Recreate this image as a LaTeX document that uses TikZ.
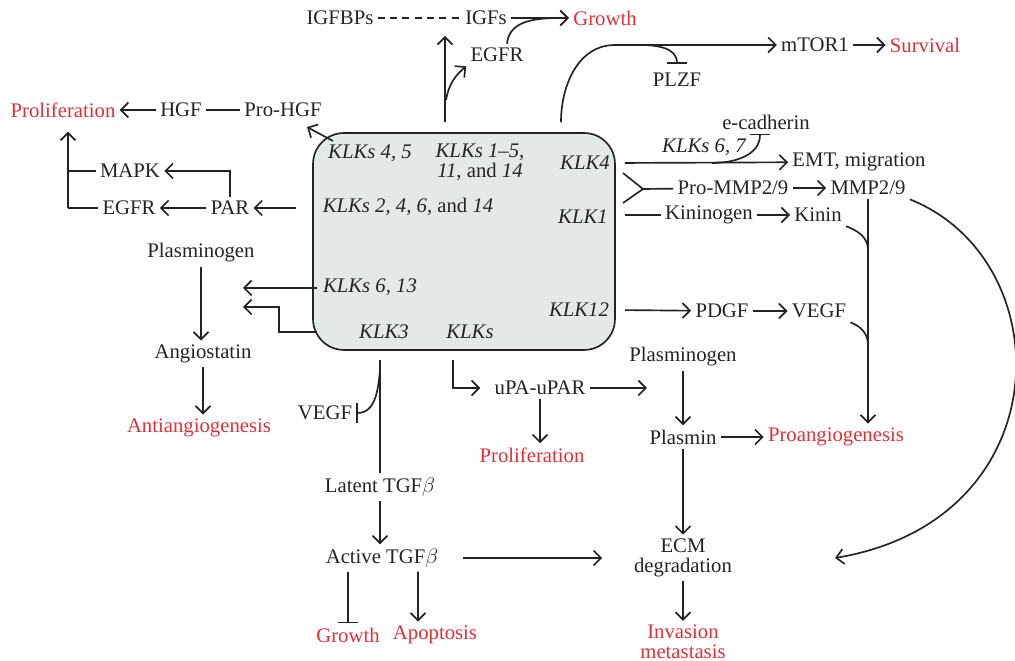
\documentclass[tikz,border=0pt]{standalone}
\usepackage{fontspec}
\setmainfont{Liberation Serif}
\usetikzlibrary{positioning,arrows.meta,calc}
\definecolor{effred}{RGB}{226,48,52}
\definecolor{boxfill}{RGB}{228,233,231}
\definecolor{ink}{RGB}{35,35,35}
\newcommand{\fsz}{\fontsize{11.8}{11.2}\selectfont}
\tikzset{effect/.style = {text=effred},
         klk/.style = {font=\fsz\itshape},
         klkbox/.style = {draw=ink, fill=boxfill, rounded corners=0.62cm,
                          minimum width=6.04cm, minimum height=4.34cm},
         inh/.style = {-{Bar[width=4mm]}},
         offbox/.style = {shorten <=0.18cm}}

\begin{document}
\begin{tikzpicture}[x=0.02cm, y=-0.02cm, line width=0.95pt, draw=ink, text=ink,
    >={Straight Barb[length=1.5mm,width=3mm]},
    every node/.style={font=\fsz, inner sep=2pt, align=center}]
    \useasboundingbox (0,0) rectangle (1015,661);

    % central box with the kallikreins
    \node [klkbox] (box) at (464,241.5) {};
    \node [klk] (kl45) at (370,153) {KLKs 4, 5};
    \node (kl15) at (480,162) {\textit{KLKs 1--5,}\\\textit{11}, and \textit{14}};
    \node [klk] (kl4) at (585,163) {KLK4};
    \node (kl2) at (408,207) {\textit{KLKs 2, 4, 6,} and \textit{14}};
    \node [klk] (kl1) at (583,217) {KLK1};
    \node [klk] (kl613) at (370,287) {KLKs 6, 13};
    \node [klk] (kl12) at (579,310) {KLK12};
    \node [klk] (kl3) at (384,332) {KLK3};
    \node [klk] (kls) at (470,332) {KLKs};

    % top
    \node (igfbp) at (340,18) {IGFBPs};
    \node (igf) at (486,18) {IGFs};
    \node [effect] (growtht) at (605,18) {Growth};
    \node (egfrt) at (497,55) {EGFR};
    \node (mtor) at (815,45) {mTOR1};
    \node [effect] (surv) at (925,45) {Survival};
    \node (plzf) at (677,80) {PLZF};

    \draw [dash pattern=on 4pt off 3pt] (igfbp) -- (igf);
    \draw [->] (igf) -- (growtht);
    \draw [->] ([xshift=0.2cm]egfrt.north) to[out=85,in=180] (growtht.west);
    \coordinate (up) at (445,36);
    \draw [->] ([yshift=0.2cm]up |- box.north) -- (up);
    \coordinate (eg) at (446,100);
    \draw [->] (eg) to[out=80,in=220] (egfrt.south west);
    \coordinate (tm) at (561,45);
    \coordinate (arc) at (615,45);
    \draw [->] ([yshift=0.2cm]tm |- box.north) to[out=90,in=180] (arc) -- (mtor.west);
    \coordinate (pb) at (640,45);
    \draw [inh] (pb) to[out=0,in=90] ([yshift=0.1cm]plzf.north);
    \draw [->] (mtor) -- (surv);

    % left
    \node [effect] (prolifl) at (63,110) {Proliferation};
    \node (hgf) at (181,110) {HGF};
    \node (prohgf) at (283,110) {Pro-HGF};
    \node (mapk) at (130,171) {MAPK};
    \node (egfrl) at (129,208) {EGFR};
    \node (par) at (230,208) {PAR};

    \coordinate (hgfrom) at (333,141);
    \coordinate (hgtip) at (307,127);
    \draw [->] (hgfrom) -- (hgtip);
    \draw (prohgf) -- (hgf);
    \draw [->] (hgf) -- (prolifl);
    \coordinate (pv) at (68,208);
    \draw (egfrl.west) -- (pv);
    \draw (mapk.west) -- (mapk.west -| pv);
    \draw [->] (pv) -- ([yshift=-0.2cm]pv |- prolifl.south);
    \draw [->] (par.north) |- (mapk.east);
    \draw [->] (par) -- (egfrl);
    \draw [->, shorten <=0.16cm] ([xshift=-0.16cm]box.west |- par) -- (par);

    \node (plasl) at (201,253) {Plasminogen};
    \node (angio) at (203,354) {Angiostatin};
    \node [effect] (anti) at (199,428) {Antiangiogenesis};
    \draw [->] (plasl) -- (plasl |- angio.north);
    \draw [->] (angio) -- (angio |- anti.north);
    \coordinate (pa1) at (243,288);
    \coordinate (pa2) at (243,307);
    \draw [->] ([xshift=0.1cm]pa1 -| box.west) -- (pa1);
    \draw [->] ([xshift=0.1cm]box.west |- kl3) -- ++(-38,0) |- (pa2);

    % bottom left
    \node (vegfl) at (325,413) {VEGF};
    \node (latent) at (380,487) {Latent TGF$\beta$};
    \node (active) at (382,558) {Active TGF$\beta$};
    \node [effect] (growthb) at (348,635) {Growth};
    \node [effect] (apop) at (435,635) {Apoptosis};

    \draw ([yshift=-0.18cm]latent |- box.south) -- (latent.north);
    \coordinate (kv) at (380,370);
    \draw [inh] (kv) to[out=-95,in=0] (vegfl.east);
    \draw [->] (latent) -- (latent |- active.north);
    \draw [inh] (active.south -| growthb) -- (growthb.north);
    \draw [->] ([xshift=0.72cm]active.south) -- ([xshift=-0.34cm]apop.north);

    % bottom middle
    \node (upa) at (540,388) {uPA-uPAR};
    \node [effect] (prolifb) at (532,455) {Proliferation};
    \coordinate (ku) at (453,360);
    \draw [->, shorten >=0.2cm] (ku) |- (upa.west);
    \draw [->] (upa.south) -- (upa.south |- prolifb.north);
    \coordinate (ptip) at (647,388);
    \draw [->] (upa) -- (ptip);

    \node (plasr) at (683,357) {Plasminogen};
    \node (plasmin) at (683,437) {Plasmin};
    \node [effect] (proang) at (836,437) {Proangiogenesis};
    \node (ecm) at (683,558) {ECM\\degradation};
    \node [effect] (inv) at (683,642) {Invasion\\metastasis};
    \draw [->] (plasr) -- (plasr |- plasmin.north);
    \draw [->] (plasmin) -- (proang);
    \draw [->] (plasmin) -- (plasmin |- ecm.north);
    \draw [->] (ecm) -- (ecm |- inv.north);
    \draw [->, shorten <=0.4cm, shorten >=0.55cm] (active) -- (active -| ecm.west);

    % right
    \node [klk] (k67) at (704,147) {KLKs 6, 7};
    \node (ecad) at (766,122) {e-cadherin};
    \node (emt) at (859,162) {EMT, migration};
    \node (promm) at (733,188) {Pro-MMP2/9};
    \node (mmp) at (868,188) {MMP2/9};
    \node (kinog) at (709,215) {Kininogen};
    \node (kinin) at (818,215) {Kinin};
    \node (pdgf) at (722,311) {PDGF};
    \node (vegfr) at (819,311) {VEGF};

    \draw [->, offbox] (box.east |- kl4) -- (emt);
    \coordinate (ec) at (712,163);
    \draw [inh] (ec) to[out=0,in=-90] ([xshift=-0.12cm]ecad.south);
    \coordinate (fa) at (623,173);
    \coordinate (fb) at (623,203);
    \coordinate (fk) at (643,189);
    \draw (fa) -- (fk) -- (fb);
    \draw (fk) -- (promm);
    \draw [->] (promm) -- (mmp);
    \draw [offbox] (box.east |- kinog) -- (kinog);
    \draw [->] (kinog) -- (kinin);
    \draw [->] (mmp.south) -- (mmp.south |- proang.north);
    \coordinate (kj) at (868,250);
    \coordinate (vj) at (868,345);
    \draw (kinin.south east) to[out=-20,in=90] (kj);
    \draw (vegfr.south east) to[out=-20,in=90] (vj);
    \draw [->, offbox] (box.east |- kl12) -- (pdgf);
    \draw [->] (pdgf) -- (vegfr);
    \coordinate (ecmtip) at (835,558);
    \draw [->] (mmp.south east) .. controls (1062,260) and (1062,520) .. (ecmtip);
\end{tikzpicture}
\end{document}
